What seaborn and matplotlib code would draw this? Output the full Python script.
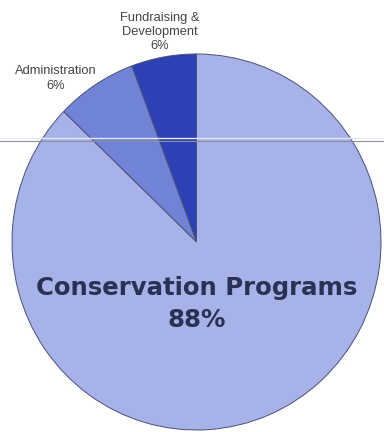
import seaborn as sns
import matplotlib
matplotlib.use("Agg")
from matplotlib import pyplot as plt
from matplotlib.lines import Line2D

sns.set_theme(style="white")

# budget split
categories = ["Fundraising &\nDevelopment", "Administration", "Conservation Programs"]
label_pct = [6, 6, 88]            # as printed on the chart
wedge_sizes = [5.7, 7.1, 87.2]    # as drawn (angles)
colors = ["#2c41b3", "#7083d6", "#a6b2e8"]

fig = plt.figure(figsize=(3.84, 4.32), dpi=100)
fig.patch.set_facecolor("white")
# pie box in pixels: x 12..381, y 54..430 (scan is slightly stretched)
ax = fig.add_axes([12 / 384, 2 / 432, 369 / 384, 376 / 432])

wedges, _ = ax.pie(wedge_sizes, colors=colors, startangle=90, counterclock=True,
                   radius=1.0,
                   wedgeprops=dict(edgecolor="#4a5078", linewidth=0.7))
ax.set_aspect("auto")
ax.set_xlim(-1, 1)
ax.set_ylim(-1, 1)
ax.axis("off")

small = dict(ha="center", va="center", fontsize=9.3, color="#444444",
             family=["Liberation Sans", "DejaVu Sans"], linespacing=1.25)
ax.text(-0.198, 1.117, f"{categories[0]}\n{label_pct[0]}%", **small)
ax.text(-0.762, 0.87, f"{categories[1]}\n{label_pct[1]}%", **small)
ax.text(0.0, -0.33, f"{categories[2]}\n{label_pct[2]}%", ha="center", va="center",
        fontsize=17.6, fontweight="bold", color="#2a3254",
        family=["DejaVu Sans"], linespacing=1.42)

# scan crease across the page
fig.add_artist(Line2D([0, 1], [1 - 138 / 432] * 2, color="#e4e8f6", lw=1.0))
fig.add_artist(Line2D([0, 1], [1 - 141 / 432] * 2, color="#8d8f9c", lw=0.8))

fig.savefig("out.png", dpi=100, facecolor="white")
